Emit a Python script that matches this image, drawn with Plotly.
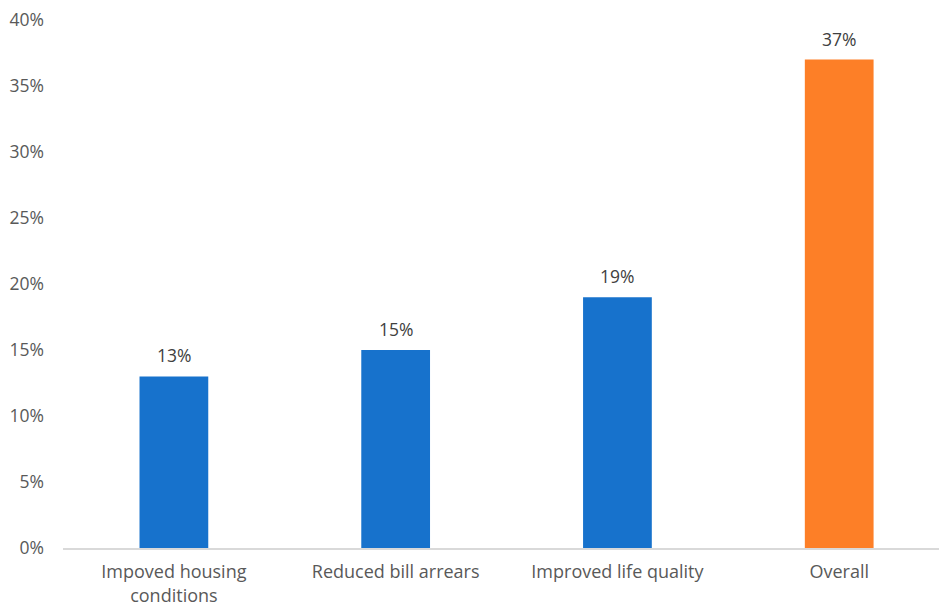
import plotly.graph_objects as go

categories = ["Impoved housing<br>conditions", "Reduced bill arrears", "Improved life quality", "Overall"]
values = [13, 15, 19, 37]
bar_colors = ["#1772CC", "#1772CC", "#1772CC", "#FD7F27"]
y_ticks = [0, 5, 10, 15, 20, 25, 30, 35, 40]

font_family = "Open Sans, Noto Sans, sans-serif"

fig = go.Figure(
    go.Bar(
        x=categories,
        y=values,
        marker=dict(color=bar_colors, line=dict(width=0)),
        hoverinfo="x+y",
    )
)

# value labels above each bar
for cat, val in zip(categories, values):
    fig.add_annotation(
        x=cat,
        y=val,
        text=f"{val}%",
        showarrow=False,
        yanchor="bottom",
        yshift=7,
        font=dict(family=font_family, size=17.5, color="#404040"),
    )

fig.update_layout(
    width=939,
    height=609,
    margin=dict(l=63, r=0, t=20, b=61),
    paper_bgcolor="white",
    plot_bgcolor="white",
    bargap=0.69,
    showlegend=False,
    font=dict(family=font_family, size=17, color="#595959"),
)

fig.update_xaxes(
    range=[-0.5, 3.45],
    showline=True,
    linecolor="#D9D9D9",
    linewidth=1.5,
    showgrid=False,
    ticks="",
    ticklabelstandoff=7,
    automargin=False,
    tickfont=dict(size=18, color="#595959"),
)

fig.update_yaxes(
    range=[0, 40],
    tickvals=y_ticks,
    ticktext=[f"{t}%" for t in y_ticks],
    showgrid=False,
    zeroline=False,
    showline=False,
    ticks="",
    ticklabelstandoff=18,
    automargin=False,
    tickfont=dict(size=17.5, color="#595959"),
)

fig.write_html("out.html")
